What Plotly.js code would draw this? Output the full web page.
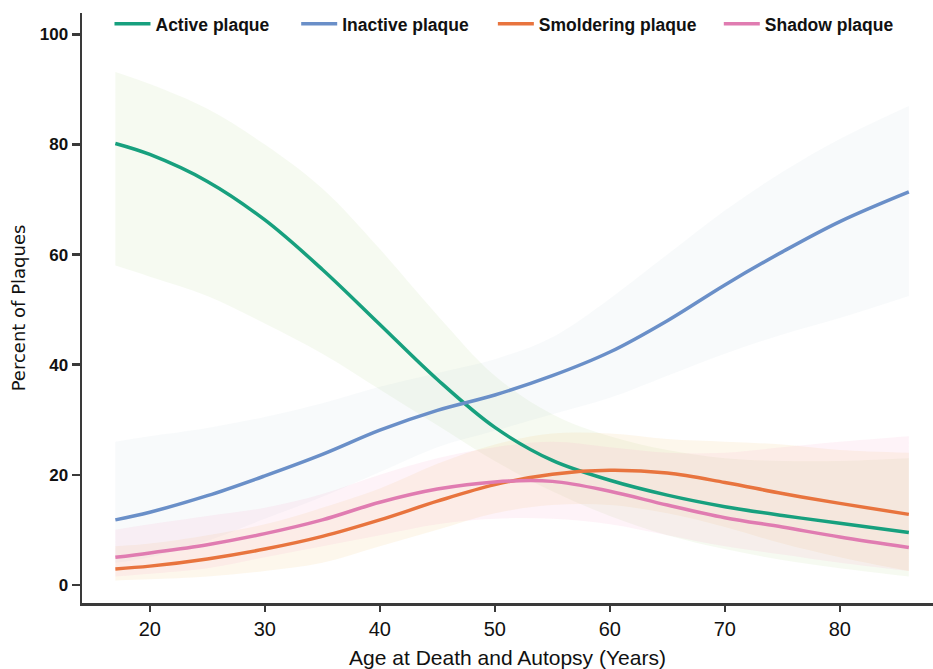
<!DOCTYPE html>
<html>
<head>
<meta charset="utf-8">
<script src="https://cdn.plot.ly/plotly-3.0.1.min.js"></script>
<style>
  html, body { margin: 0; padding: 0; background: #ffffff; }
  #chart { width: 933px; height: 669px; }
</style>
</head>
<body>
<div id="chart"></div>
<script>
// Age at death (years)
const ages = [17, 20, 25, 30, 35, 40, 45, 50, 55, 60, 65, 70, 75, 80, 86];

// Fitted percentage of plaques by type, with confidence bands
const activeMean = [80.2, 78.2, 73.3, 66.3, 57.3, 47.3, 37.3, 28.6, 22.6, 19.0, 16.3, 14.2, 12.6, 11.2, 9.5];
const activeLow  = [58.0, 56.0, 52.5, 47.5, 42.0, 35.5, 29.0, 22.5, 17.0, 12.5, 9.0, 6.5, 4.5, 3.0, 1.5];
const activeHigh = [93.2, 91.0, 86.5, 80.0, 72.0, 61.0, 49.0, 38.0, 31.0, 27.0, 24.5, 23.0, 22.5, 22.5, 23.0];

const inactiveMean = [11.8, 13.2, 16.2, 19.8, 23.7, 28.1, 31.7, 34.5, 38.0, 42.3, 48.0, 54.5, 60.5, 66.0, 71.4];
const inactiveLow  = [4.0, 5.0, 8.0, 12.0, 16.0, 20.5, 25.0, 28.0, 31.0, 34.0, 38.0, 42.0, 45.5, 48.5, 52.5];
const inactiveHigh = [26.0, 27.0, 28.5, 30.5, 33.0, 36.0, 38.5, 41.0, 45.0, 52.0, 60.0, 68.0, 75.0, 81.0, 87.0];

const smolderingMean = [2.9, 3.4, 4.7, 6.5, 8.8, 11.8, 15.2, 18.2, 20.1, 20.8, 20.3, 18.6, 16.6, 14.8, 12.8];
const smolderingLow  = [0.8, 1.0, 1.5, 2.5, 4.0, 7.0, 10.0, 13.0, 14.5, 14.5, 13.0, 10.5, 7.5, 5.0, 2.5];
const smolderingHigh = [7.0, 7.5, 9.0, 11.0, 14.0, 17.5, 22.0, 25.5, 27.5, 27.5, 26.5, 26.0, 25.5, 24.5, 24.0];

const shadowMean = [5.0, 5.8, 7.3, 9.3, 11.8, 15.0, 17.4, 18.7, 18.8, 17.0, 14.5, 12.2, 10.5, 8.7, 6.8];
const shadowLow  = [1.5, 2.0, 3.0, 5.0, 7.0, 9.0, 11.0, 12.0, 12.0, 11.0, 9.0, 7.0, 5.5, 4.0, 2.5];
const shadowHigh = [10.0, 11.0, 12.5, 14.0, 16.5, 20.0, 23.0, 25.0, 26.0, 25.0, 24.0, 24.0, 25.0, 26.0, 27.0];

const seriesNames = ['Active plaque', 'Inactive plaque', 'Smoldering plaque', 'Shadow plaque'];
const lineColors  = ['#17a07e', '#6a8fc8', '#e8743e', '#e07cb1'];
const bandColors  = ['rgba(170,210,130,0.11)', 'rgba(170,185,205,0.08)',
                     'rgba(240,200,130,0.15)', 'rgba(245,165,200,0.13)'];

const means = [activeMean, inactiveMean, smolderingMean, shadowMean];
const lows  = [activeLow, inactiveLow, smolderingLow, shadowLow];
const highs = [activeHigh, inactiveHigh, smolderingHigh, shadowHigh];

// One legend box per series, spread along the top edge
const legendIds = ['legend', 'legend2', 'legend3', 'legend4'];
const legendX   = [0.0323, 0.2517, 0.4828, 0.7483];

const traces = [];

// Confidence bands first, so the fitted lines sit on top
for (let i = 0; i < means.length; i++) {
  traces.push({
    x: ages, y: lows[i], type: 'scatter', mode: 'lines',
    line: { width: 0, shape: 'spline', smoothing: 1 },
    showlegend: false, hoverinfo: 'skip'
  });
  traces.push({
    x: ages, y: highs[i], type: 'scatter', mode: 'lines',
    line: { width: 0, shape: 'spline', smoothing: 1 },
    fill: 'tonexty', fillcolor: bandColors[i],
    showlegend: false, hoverinfo: 'skip'
  });
}

for (let i = 0; i < means.length; i++) {
  traces.push({
    x: ages, y: means[i], type: 'scatter', mode: 'lines',
    name: seriesNames[i], legend: legendIds[i],
    line: { color: lineColors[i], width: 3.5, shape: 'spline', smoothing: 1 }
  });
}

const axisColor = '#3a3a3a';

const layout = {
  width: 933, height: 669,
  margin: { l: 82, r: 0, t: 13, b: 66 },
  paper_bgcolor: '#ffffff', plot_bgcolor: '#ffffff',
  showlegend: true,
  xaxis: {
    range: [14.1, 88.1],
    tickmode: 'array', tickvals: [20, 30, 40, 50, 60, 70, 80],
    ticks: 'outside', ticklen: 6, tickwidth: 2.5, tickcolor: axisColor,
    showline: true, linecolor: axisColor, linewidth: 2.5,
    showgrid: false, zeroline: false,
    tickfont: { family: 'Liberation Sans, Arial, sans-serif', size: 20, color: '#111111' },
    title: {
      text: 'Age at Death and Autopsy (Years)', standoff: 12,
      font: { family: 'Liberation Sans, Arial, sans-serif', size: 21, color: '#111111' }
    }
  },
  yaxis: {
    range: [-3.3, 103.9],
    tickmode: 'array', tickvals: [0, 20, 40, 60, 80, 100],
    ticks: 'outside', ticklen: 8, tickwidth: 2.5, tickcolor: axisColor,
    showline: true, linecolor: axisColor, linewidth: 2.5,
    showgrid: false, zeroline: false,
    tickfont: { family: 'Liberation Sans, Arial, sans-serif', size: 17, weight: 'bold', color: '#111111' },
    title: {
      text: 'Percent of Plaques', standoff: 10,
      font: { family: 'DejaVu Sans, sans-serif', size: 18, color: '#111111' }
    }
  }
};

for (let i = 0; i < legendIds.length; i++) {
  layout[legendIds[i]] = {
    orientation: 'h', x: legendX[i], xanchor: 'left', y: 1.012, yanchor: 'top',
    itemwidth: 36,
    font: { family: 'Liberation Sans, Arial, sans-serif', size: 17.5, weight: 'bold', color: '#111111' },
    bgcolor: 'rgba(0,0,0,0)'
  };
}

Plotly.newPlot('chart', traces, layout, { displayModeBar: false, staticPlot: true });
</script>
</body>
</html>
